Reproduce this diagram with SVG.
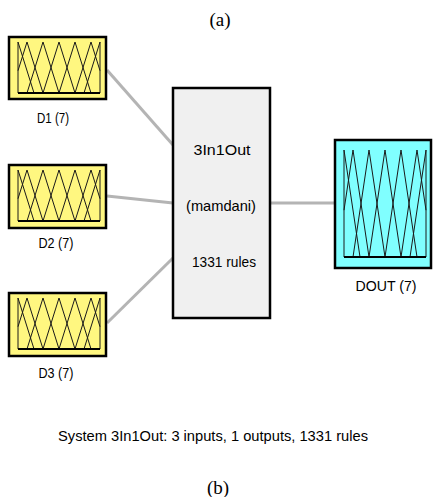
<svg xmlns="http://www.w3.org/2000/svg" xmlns:xlink="http://www.w3.org/1999/xlink" width="434" height="497" viewBox="0 0 434 497">
  <style>
    .cap { font-family: "Liberation Serif", "Times New Roman", serif; font-size: 19px; fill: #000; text-anchor: middle; }
    .lbl { font-family: "Liberation Sans", Arial, sans-serif; font-size: 14px; fill: #000; text-anchor: middle; }
    .txt { font-family: "Liberation Sans", Arial, sans-serif; font-size: 14.5px; fill: #000; text-anchor: middle; }
    .inbox { fill: #FFF780; stroke: #000; stroke-width: 2.5; }
    .outbox { fill: #80FFFF; stroke: #000; stroke-width: 2.5; }
    .fis { fill: #F0F0F0; stroke: #000; stroke-width: 2.5; }
    .conn { stroke: #B4B4B4; stroke-width: 3; fill: none; }
    .mf { fill: none; stroke: #1A1A1A; stroke-width: 1; vector-effect: non-scaling-stroke; }
    .axis { fill: none; stroke: #000; stroke-width: 2; vector-effect: non-scaling-stroke; }
  </style>
  <defs>
    <g id="mfs">
      <path class="mf" d="M0,100 L0,0 L16,100 M0,56.25 L9,0 L25,100 M9,100 L25,0 L41,100 M25,100 L41,0 L57,100 M41,100 L57,0 L73,100 M57,100 L73,0 L82,56.25 M66,100 L82,0 L82,100"/>
      <path class="axis" d="M0,100 H82"/>
    </g>
  </defs>

  <text class="cap" x="220" y="26">(a)</text>

  <g id="connectors">
    <line class="conn" x1="107" y1="70" x2="173" y2="145"/>
    <line class="conn" x1="107" y1="196" x2="173" y2="203"/>
    <line class="conn" x1="107" y1="323" x2="173" y2="258"/>
    <line class="conn" x1="270" y1="203" x2="335" y2="203"/>
  </g>

  <g id="D1">
    <rect class="inbox" x="9" y="37" width="97" height="62"/>
    <use xlink:href="#mfs" href="#mfs" transform="translate(18,42) scale(1,0.51)"/>
    <text class="lbl" x="53" y="123" textLength="32" lengthAdjust="spacingAndGlyphs">D1 (7)</text>
  </g>

  <g id="D2">
    <rect class="inbox" x="9" y="165" width="97" height="63"/>
    <use xlink:href="#mfs" href="#mfs" transform="translate(18,170) scale(1,0.51)"/>
    <text class="lbl" x="56" y="248" textLength="35" lengthAdjust="spacingAndGlyphs">D2 (7)</text>
  </g>

  <g id="D3">
    <rect class="inbox" x="9" y="293" width="97" height="63"/>
    <use xlink:href="#mfs" href="#mfs" transform="translate(18,298) scale(1,0.51)"/>
    <text class="lbl" x="56" y="378" textLength="35" lengthAdjust="spacingAndGlyphs">D3 (7)</text>
  </g>

  <g id="FIS">
    <rect class="fis" x="173" y="88" width="97" height="230"/>
    <text class="txt" x="222" y="155" textLength="57" lengthAdjust="spacingAndGlyphs">3In1Out</text>
    <text class="txt" x="221" y="211" textLength="70" lengthAdjust="spacingAndGlyphs">(mamdani)</text>
    <text class="txt" x="224" y="267" textLength="64" lengthAdjust="spacingAndGlyphs">1331 rules</text>
  </g>

  <g id="DOUT">
    <rect class="outbox" x="335" y="140" width="96" height="128"/>
    <use xlink:href="#mfs" href="#mfs" transform="translate(344,150) scale(1,1.07)"/>
    <text class="lbl" x="386" y="291" textLength="61" lengthAdjust="spacingAndGlyphs">DOUT (7)</text>
  </g>

  <text class="txt" x="213" y="441" textLength="310" lengthAdjust="spacingAndGlyphs">System 3In1Out: 3 inputs, 1 outputs, 1331 rules</text>

  <text class="cap" x="218" y="494">(b)</text>
</svg>
